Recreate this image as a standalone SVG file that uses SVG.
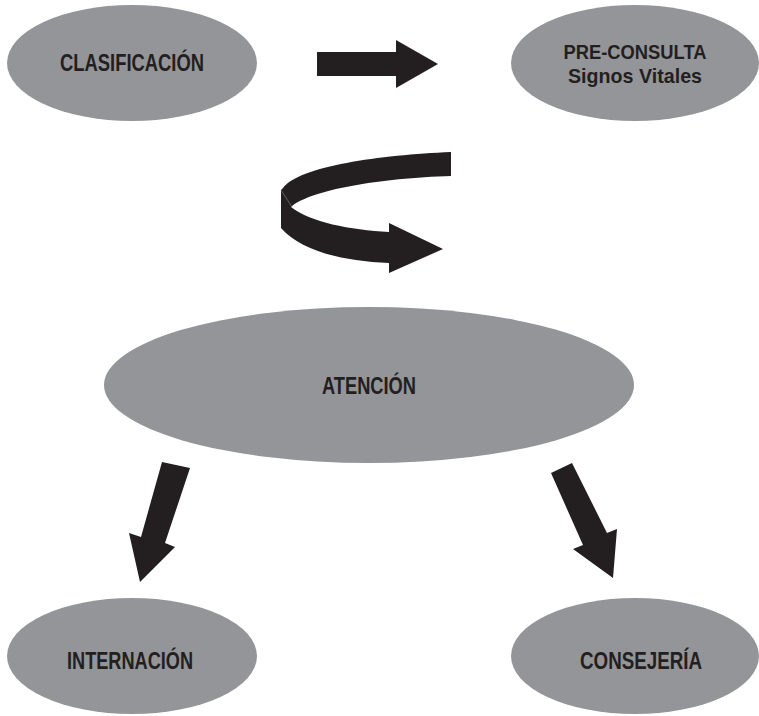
<svg xmlns="http://www.w3.org/2000/svg" width="759" height="716" viewBox="0 0 759 716">
<style>
.node{fill:#939598;}
.lbl{font-family:"Liberation Sans",Arial,sans-serif;font-weight:bold;font-size:24px;fill:#231f20;text-anchor:middle;}
.lbl2{font-size:21px;}
.arr{fill:#231f20;}
</style>
<rect width="759" height="716" fill="#ffffff"/>
<g id="clasificacion">
<ellipse class="node" cx="132" cy="63" rx="125" ry="58"/>
<text class="lbl" x="132" y="71" textLength="144" lengthAdjust="spacingAndGlyphs">CLASIFICACIÓN</text>
</g>
<g id="preconsulta">
<ellipse class="node" cx="635" cy="63" rx="124" ry="58"/>
<text class="lbl lbl2" x="635" y="59" textLength="143" lengthAdjust="spacingAndGlyphs">PRE-CONSULTA</text>
<text class="lbl lbl2" x="635" y="83" textLength="134" lengthAdjust="spacingAndGlyphs">Signos Vitales</text>
</g>
<g id="atencion">
<ellipse class="node" cx="369" cy="385" rx="265" ry="78"/>
<text class="lbl" x="369" y="394" textLength="94" lengthAdjust="spacingAndGlyphs">ATENCIÓN</text>
</g>
<g id="internacion">
<ellipse class="node" cx="132" cy="656" rx="125" ry="58"/>
<text class="lbl" x="130" y="669" textLength="126" lengthAdjust="spacingAndGlyphs">INTERNACIÓN</text>
</g>
<g id="consejeria">
<ellipse class="node" cx="635" cy="656" rx="124" ry="58"/>
<text class="lbl" x="641" y="669" textLength="122" lengthAdjust="spacingAndGlyphs">CONSEJERÍA</text>
</g>
<g id="connectors">
<polygon class="arr" points="317,52 396,52 396,40 438,64 396,88 396,76 317,76"/>
<path class="arr" d="M451,152 C380,155 300,166 283,188 L281,190 L281,228 C300,250 340,261 389,263 L389,273 L443,249 L389,223 L389,232 C350,230 310,222 291,207 C310,190 380,178 451,176 Z"/>
<line x1="281" y1="190" x2="292" y2="207" stroke="#6d6e71" stroke-width="0.8"/>
<polygon class="arr" points="162,462 190,468 165,543 175,547 140,582 129,533 141,537"/>
<polygon class="arr" points="551,473 572,463 607,533 617,529 613,578 573,549 583,545"/>
</g>
</svg>
